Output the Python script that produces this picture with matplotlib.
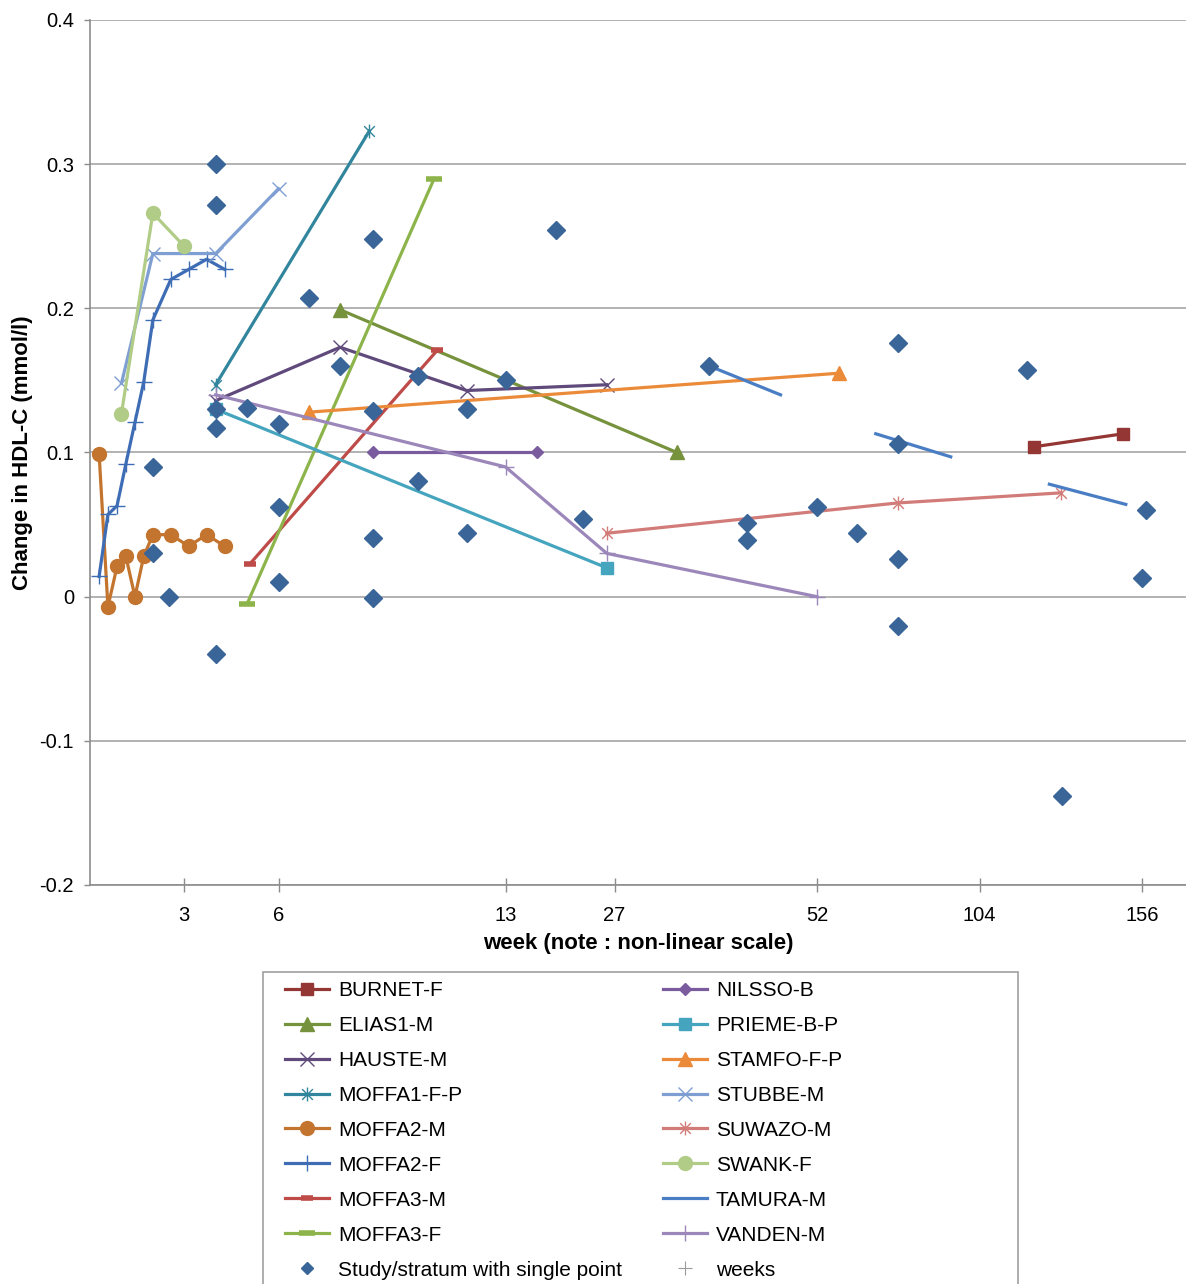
import numpy as np
import matplotlib
matplotlib.use("Agg")
import matplotlib.pyplot as plt
from matplotlib.lines import Line2D
from matplotlib.path import Path
from matplotlib.patches import Rectangle

plt.rcParams['font.family'] = ['Liberation Sans', 'DejaVu Sans']

# non-linear week axis: tick weeks and their relative positions along the axis
axis_weeks = [0, 3, 6, 13, 27, 52, 104, 156, 170]
axis_pos = [0, 94.3, 188.5, 415.5, 524.6, 727, 889.5, 1052.4, 1096]
tick_weeks = [3, 6, 13, 27, 52, 104, 156]

# series data (week, change in HDL-C mmol/l)
burnet_wk = [121.5, 149.9]
burnet_val = [0.104, 0.113]
elias_wk = [7.9, 34.7]
elias_val = [0.199, 0.100]
hauste_wk = [4.0, 7.9, 11.8, 26.0]
hauste_val = [0.136, 0.173, 0.143, 0.147]
moffa1_wk = [4.0, 8.8]
moffa1_val = [0.147, 0.323]
moffa2m_wk = [0.29, 0.57, 0.86, 1.14, 1.43, 1.71, 2.0, 2.57, 3.14, 3.71, 4.29]
moffa2m_val = [0.099, -0.007, 0.021, 0.028, 0.0, 0.028, 0.043, 0.043, 0.035, 0.043, 0.035]
moffa2f_wk = [0.29, 0.57, 0.86, 1.14, 1.43, 1.71, 2.0, 2.57, 3.14, 3.71, 4.29]
moffa2f_val = [0.014, 0.057, 0.063, 0.092, 0.121, 0.149, 0.192, 0.220, 0.227, 0.234, 0.227]
moffa3m_wk = [5.1, 10.9]
moffa3m_val = [0.023, 0.171]
moffa3f_wk = [5.0, 10.8]
moffa3f_val = [-0.005, 0.290]
nilsso_wk = [8.9, 17.0]
nilsso_val = [0.100, 0.100]
prieme_wk = [4.0, 26.0]
prieme_val = [0.130, 0.020]
stamfo_wk = [6.95, 59.0]
stamfo_val = [0.128, 0.155]
stubbe_wk = [1.0, 2.0, 4.0, 6.0]
stubbe_val = [0.148, 0.238, 0.238, 0.283]
suwazo_wk = [26.0, 77.8, 129.9]
suwazo_val = [0.044, 0.065, 0.072]
swank_wk = [1.0, 2.0, 3.0]
swank_val = [0.127, 0.266, 0.243]
tamura_wk = [38.7, 47.5, np.nan, 70.8, 94.8, np.nan, 126.3, 150.7]
tamura_val = [0.160, 0.140, np.nan, 0.113, 0.097, np.nan, 0.078, 0.064]
vanden_wk = [4.0, 13.0, 26.0, 52.0]
vanden_val = [0.140, 0.090, 0.030, 0.0]

single_wk = [4.0, 4.0, 4.0, 4.0, 4.0, 2.0, 2.0, 2.5, 5.0, 6.0, 6.0, 6.0, 6.95, 7.9,
             8.9, 8.9, 8.9, 8.9, 10.3, 10.3, 11.8, 11.8, 13.0, 19.5, 23.0, 38.7,
             43.4, 43.4, 52.0, 64.9, 77.8, 77.8, 77.8, 77.8, 119.1, 130.3, 157.0, 155.9]
single_val = [0.300, 0.272, 0.117, 0.130, -0.040, 0.090, 0.030, 0.0, 0.131, 0.120, 0.062,
              0.010, 0.207, 0.160, 0.248, 0.129, 0.041, -0.001, 0.153, 0.080, 0.130, 0.044,
              0.150, 0.254, 0.054, 0.160, 0.051, 0.039, 0.062, 0.044, 0.176, 0.106, 0.026,
              -0.020, 0.157, -0.138, 0.060, 0.013]


def fwd(x):
    return np.interp(x, axis_weeks, axis_pos)


def inv(p):
    return np.interp(p, axis_pos, axis_weeks)


# excel style asterisk: an x with a vertical bar
star = Path([(-1, -1), (1, 1), (-1, 1), (1, -1), (0, -1.3), (0, 1.3)],
            [Path.MOVETO, Path.LINETO, Path.MOVETO, Path.LINETO, Path.MOVETO, Path.LINETO])

fig = plt.figure(figsize=(11.86, 12.84), dpi=100)
ax = fig.add_axes([90 / 1186, 399 / 1284, 1096 / 1186, 865 / 1284])
ax.set_xscale('function', functions=(fwd, inv))

lw = 2.3
series = [
    ('BURNET-F', burnet_wk, burnet_val, '#943634', dict(marker='s', ms=9)),
    ('ELIAS1-M', elias_wk, elias_val, '#76923C', dict(marker='^', ms=10)),
    ('HAUSTE-M', hauste_wk, hauste_val, '#5F4A7B', dict(marker='x', ms=10, mew=1)),
    ('MOFFA1-F-P', moffa1_wk, moffa1_val, '#31859C', dict(marker=star, ms=10, mew=1)),
    ('MOFFA2-M', moffa2m_wk, moffa2m_val, '#C3742F', dict(marker='o', ms=10)),
    ('MOFFA2-F', moffa2f_wk, moffa2f_val, '#3E6DB5', dict(marker='+', ms=11, mew=1)),
    ('MOFFA3-M', moffa3m_wk, moffa3m_val, '#BE4B48', dict(marker='_', ms=9, mew=4)),
    ('MOFFA3-F', moffa3f_wk, moffa3f_val, '#8DB44A', dict(marker='_', ms=11, mew=4)),
    ('NILSSO-B', nilsso_wk, nilsso_val, '#7A5C9E', dict(marker='D', ms=6)),
    ('PRIEME-B-P', prieme_wk, prieme_val, '#46A5BE', dict(marker='s', ms=9)),
    ('STAMFO-F-P', stamfo_wk, stamfo_val, '#EB8B3A', dict(marker='^', ms=10)),
    ('STUBBE-M', stubbe_wk, stubbe_val, '#7F9FD2', dict(marker='x', ms=10, mew=1)),
    ('SUWAZO-M', suwazo_wk, suwazo_val, '#D27C79', dict(marker=star, ms=10, mew=1)),
    ('SWANK-F', swank_wk, swank_val, '#B1CC86', dict(marker='o', ms=10)),
    ('TAMURA-M', tamura_wk, tamura_val, '#4A7EC4', dict(marker=None)),
    ('VANDEN-M', vanden_wk, vanden_val, '#9C87BA', dict(marker='+', ms=11, mew=1)),
]

handles = {}
for name, wk, val, col, mk in series:
    ln, = ax.plot(wk, val, color=col, lw=lw, label=name, zorder=2, **mk)
    handles[name] = ln

ax.plot(single_wk, single_val, ls='none', marker='D', ms=9.5, color='#3A6598', zorder=4)
single_h = Line2D([], [], ls='none', marker='D', ms=6.5, color='#3A6598')
weeks_h = Line2D([], [], ls='none', marker='+', ms=10, mew=0.8, color='#9A9A9A')

ax.set_xlim(0, 170)
ax.set_ylim(-0.2, 0.4)
ax.set_xticks(tick_weeks)
ax.set_xticklabels([str(t) for t in tick_weeks])
yt = [-0.2, -0.1, 0, 0.1, 0.2, 0.3, 0.4]
ax.set_yticks(yt)
ax.set_yticklabels(['-0.2', '-0.1', '0', '0.1', '0.2', '0.3', '0.4'])
ax.yaxis.grid(True, color='#A6A6A6', lw=1.2)
ax.set_axisbelow(True)
for s in ['top', 'right']:
    ax.spines[s].set_visible(False)
for s in ['left', 'bottom']:
    ax.spines[s].set_color('#8C8C8C')
    ax.spines[s].set_linewidth(1.2)
ax.tick_params(axis='x', direction='inout', length=10, width=1, color='#8C8C8C',
               labelsize=14.5, pad=10)
ax.tick_params(axis='y', direction='out', length=4, width=1, color='#8C8C8C',
               labelsize=14.5, pad=7.5)

ax.set_xlabel('week (note : non-linear scale)', fontsize=16, fontweight='bold', labelpad=6)
ax.set_ylabel('Change in HDL-C (mmol/l)', fontsize=16, fontweight='bold', labelpad=4.5)

left = ['BURNET-F', 'ELIAS1-M', 'HAUSTE-M', 'MOFFA1-F-P', 'MOFFA2-M', 'MOFFA2-F',
        'MOFFA3-M', 'MOFFA3-F']
right = ['NILSSO-B', 'PRIEME-B-P', 'STAMFO-F-P', 'STUBBE-M', 'SUWAZO-M', 'SWANK-F',
         'TAMURA-M', 'VANDEN-M']
hl = [handles[n] for n in left] + [single_h] + [handles[n] for n in right] + [weeks_h]
ll = left + ['Study/stratum with single point'] + right + ['weeks']
fig.legend(hl, ll, ncol=2, loc='upper left', bbox_to_anchor=(285 / 1186, 1 - 981 / 1284),
           frameon=False, fontsize=15, handlelength=2.1, handletextpad=0.45,
           columnspacing=1.95, labelspacing=0.765, borderpad=0, borderaxespad=0)
fig.patches.append(Rectangle((263 / 1186, -0.01), (1018 - 263) / 1186, 0.01 + 312 / 1284,
                             transform=fig.transFigure, fill=False, edgecolor='#A0A0A0', lw=1.2))

fig.savefig('out.png', dpi=100)
